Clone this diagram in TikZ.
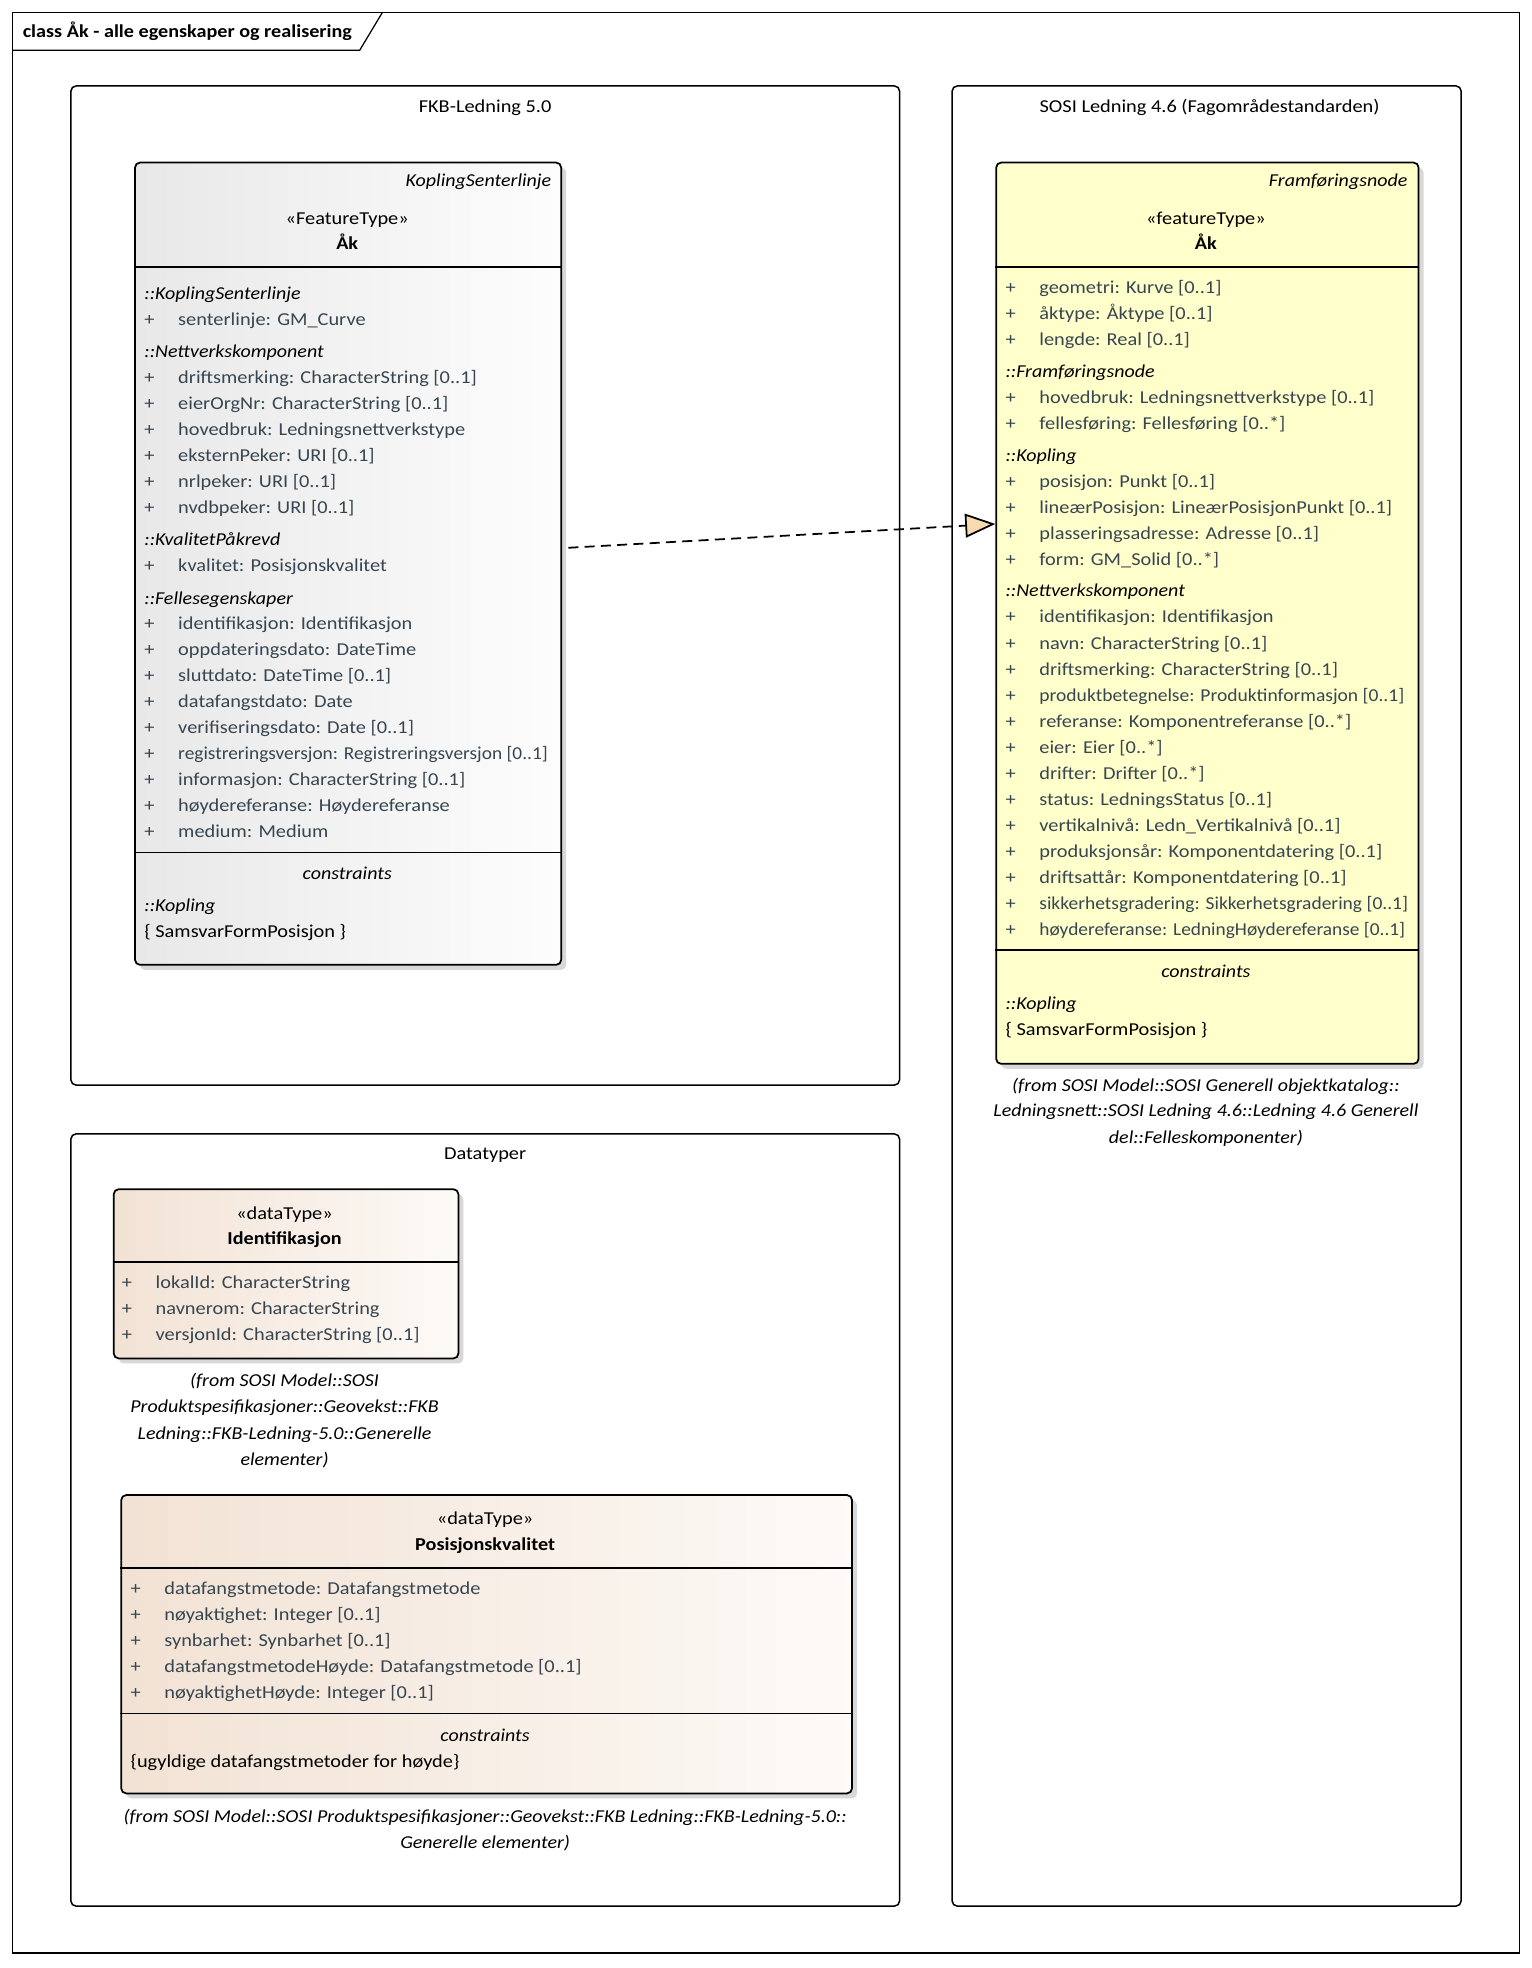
\documentclass[tikz,border=0pt]{standalone}
\usepackage{fontspec}
\usepackage{graphicx}
\setmainfont{Carlito}[FakeStretch=1.12, ItalicFeatures={FakeStretch=1.1}, BoldFeatures={FakeStretch=1.11}]
\usetikzlibrary{arrows.meta,shadows}
\definecolor{attrc}{RGB}{55,70,80}
\definecolor{fkbl}{RGB}{232,232,232}
\definecolor{fkbr}{RGB}{253,253,253}
\definecolor{yel}{RGB}{255,255,204}
\definecolor{dtl}{RGB}{242,226,212}
\definecolor{dtr}{RGB}{253,250,247}
\definecolor{tipc}{RGB}{247,219,176}
\tikzset{
  pkg/.style={draw, line width=1.2pt, rounded corners=4pt, anchor=north west, inner sep=0pt},
  cls/.style={draw, line width=1.4pt, rounded corners=4pt, anchor=north west, inner sep=0pt,
    drop shadow={shadow xshift=4pt, shadow yshift=-4pt, fill=black!25, opacity=0.6}},
  txt/.style={inner sep=0pt, font=\fontsize{14.5}{17}\selectfont},
  attrtxt/.style={txt, anchor=base west, text=attrc},
  grp/.style={txt, anchor=base west, font=\fontsize{14.5}{17}\selectfont\itshape},
  ctr/.style={txt, anchor=base},
  ital/.style={txt, anchor=base, font=\fontsize{14.5}{17}\selectfont\itshape},
  sep/.style={line width=1.4pt},
}
\newcommand{\pl}[1]{\makebox[27pt][l]{+}#1}
\newcommand{\sq}[2]{\scalebox{#1}[1]{#2}}
\begin{document}
\begin{tikzpicture}[x=1pt,y=-1pt]
\useasboundingbox (0,0) rectangle (1222,1570);
\fill[white] (0,0) rectangle (1222,1570);
% outer frame
\draw[line width=1pt] (10,10) rectangle (1212,1558);
\draw[line width=1pt] (10,40) -- (287,40) -- (305,10);
\node[txt, anchor=base west, font=\fontsize{14.5}{16}\selectfont\bfseries] (title) at (18,30) {class Åk - alle egenskaper og realisering};
% packages
\node[pkg, minimum width=661pt, minimum height=797pt] (pfkb) at (56,68) {};
\node[ctr] (pfkbt) at (387,90) {FKB-Ledning 5.0};
\node[pkg, minimum width=406pt, minimum height=1452pt] (psosi) at (759,68) {};
\node[ctr] (psosit) at (965,90) {SOSI Ledning 4.6 (Fagområdestandarden)};
\node[pkg, minimum width=661pt, minimum height=616pt] (pdt) at (56,904) {};
\node[ctr] (pdtt) at (387,925) {Datatyper};
% ---------------- left class
\node[cls, left color=fkbl, right color=fkbr, minimum width=340pt, minimum height=640pt] (L) at (107,129) {};
\node[txt, anchor=base east, font=\fontsize{14.5}{17}\selectfont\itshape] (Lh) at (440,149) {KoplingSenterlinje};
\node[ctr] (Ls) at (277,179) {«FeatureType»};
\node[ctr, font=\fontsize{14.5}{17}\selectfont\bfseries] (Ln) at (277,199) {Åk};
\draw[sep] (L.west |- 0,213) -- (L.east |- 0,213);
\node[grp] (Lg1) at (115,239) {::KoplingSenterlinje};
\node[attrtxt] (La1) at (115,260) {\pl{senterlinje: GM\_Curve}};
\node[grp] (Lg2) at (115,285) {::Nettverkskomponent};
\foreach \t [count=\i] in {driftsmerking: CharacterString [0..1], eierOrgNr: CharacterString [0..1], hovedbruk: Ledningsnettverkstype, eksternPeker: URI [0..1], nrlpeker: URI [0..1], nvdbpeker: URI [0..1]}
  \node[attrtxt] (Lb\i) at (115,{306+20.75*(\i-1)}) {\pl{\t}};
\node[grp] (Lg3) at (115,435) {::KvalitetPåkrevd};
\node[attrtxt] (Lc1) at (115,456) {\pl{kvalitet: Posisjonskvalitet}};
\node[grp] (Lg4) at (115,482) {::Fellesegenskaper};
\foreach \t [count=\i] in {identifikasjon: Identifikasjon, oppdateringsdato: DateTime, sluttdato: DateTime [0..1], datafangstdato: Date, verifiseringsdato: Date [0..1], {\sq{0.951}{registreringsversjon: Registreringsversjon [0..1]}}, informasjon: CharacterString [0..1], høydereferanse: Høydereferanse, medium: Medium}
  \node[attrtxt] (Ld\i) at (115,{502+20.75*(\i-1)}) {\pl{\t}};
\draw[sep] (L.west |- 0,680) -- (L.east |- 0,680);
\node[ital] (Lct) at (277,702) {constraints};
\node[grp] (Lk) at (115,727) {::Kopling};
\node[txt, anchor=base west] (Lkc) at (115,748) {\{ SamsvarFormPosisjon \}};
% ---------------- right class
\node[cls, fill=yel, minimum width=337pt, minimum height=719pt] (R) at (794,129) {};
\node[txt, anchor=base east, font=\fontsize{14.5}{17}\selectfont\itshape] (Rh) at (1123,149) {Framføringsnode};
\node[ctr] (Rs) at (962,179) {«featureType»};
\node[ctr, font=\fontsize{14.5}{17}\selectfont\bfseries] (Rn) at (962,199) {Åk};
\draw[sep] (R.west |- 0,213) -- (R.east |- 0,213);
\foreach \t [count=\i] in {geometri: Kurve [0..1], åktype: Åktype [0..1], lengde: Real [0..1]}
  \node[attrtxt] (Ra\i) at (802,{234+20.75*(\i-1)}) {\pl{\t}};
\node[grp] (Rg1) at (802,301) {::Framføringsnode};
\foreach \t [count=\i] in {hovedbruk: Ledningsnettverkstype [0..1], fellesføring: Fellesføring [0..*]}
  \node[attrtxt] (Rb\i) at (802,{322+20.75*(\i-1)}) {\pl{\t}};
\node[grp] (Rg2) at (802,368) {::Kopling};
\foreach \t [count=\i] in {posisjon: Punkt [0..1], lineærPosisjon: LineærPosisjonPunkt [0..1], plasseringsadresse: Adresse [0..1], form: GM\_Solid [0..*]}
  \node[attrtxt] (Rc\i) at (802,{389+20.75*(\i-1)}) {\pl{\t}};
\node[grp] (Rg3) at (802,476) {::Nettverkskomponent};
\foreach \t [count=\i] in {identifikasjon: Identifikasjon, navn: CharacterString [0..1], driftsmerking: CharacterString [0..1], {\sq{0.96}{produktbetegnelse: Produktinformasjon [0..1]}}, referanse: Komponentreferanse [0..*], eier: Eier [0..*], drifter: Drifter [0..*], status: LedningsStatus [0..1], vertikalnivå: Ledn\_Vertikalnivå [0..1], produksjonsår: Komponentdatering [0..1], driftsattår: Komponentdatering [0..1], {\sq{0.957}{sikkerhetsgradering: Sikkerhetsgradering [0..1]}}, {\sq{0.951}{høydereferanse: LedningHøydereferanse [0..1]}}}
  \node[attrtxt] (Rd\i) at (802,{497+20.75*(\i-1)}) {\pl{\t}};
\draw[sep] (R.west |- 0,758) -- (R.east |- 0,758);
\node[ital] (Rct) at (962,780) {constraints};
\node[grp] (Rk) at (802,805) {::Kopling};
\node[txt, anchor=base west] (Rkc) at (802,826) {\{ SamsvarFormPosisjon \}};
\node[ital] (Rf1) at (962,871) {(from SOSI Model::SOSI Generell objektkatalog::};
\node[ital] (Rf2) at (962,891) {Ledningsnett::SOSI Ledning 4.6::Ledning 4.6 Generell};
\node[ital] (Rf3) at (962,912) {del::Felleskomponenter)};
% ---------------- Identifikasjon
\node[cls, left color=dtl, right color=dtr, minimum width=275pt, minimum height=135pt] (I) at (90,948) {};
\node[ctr] (Is) at (227,973) {«dataType»};
\node[ctr, font=\fontsize{14.5}{17}\selectfont\bfseries] (In) at (227,993) {Identifikasjon};
\draw[sep] (I.west |- 0,1007) -- (I.east |- 0,1007);
\foreach \t [count=\i] in {lokalId: CharacterString, navnerom: CharacterString, versjonId: CharacterString [0..1]}
  \node[attrtxt] (Ia\i) at (97,{1028+20.75*(\i-1)}) {\pl{\t}};
\node[ital] (If1) at (227,1106) {(from SOSI Model::SOSI};
\node[ital] (If2) at (227,1127) {Produktspesifikasjoner::Geovekst::FKB};
\node[ital] (If3) at (227,1148) {Ledning::FKB-Ledning-5.0::Generelle};
\node[ital] (If4) at (227,1169) {elementer)};
% ---------------- Posisjonskvalitet
\node[cls, left color=dtl, right color=dtr, minimum width=583pt, minimum height=238pt] (P) at (96,1192) {};
\node[ctr] (Ps) at (387,1216) {«dataType»};
\node[ctr, font=\fontsize{14.5}{17}\selectfont\bfseries] (Pn) at (387,1237) {Posisjonskvalitet};
\draw[sep] (P.west |- 0,1251) -- (P.east |- 0,1251);
\foreach \t [count=\i] in {datafangstmetode: Datafangstmetode, nøyaktighet: Integer [0..1], synbarhet: Synbarhet [0..1], datafangstmetodeHøyde: Datafangstmetode [0..1], nøyaktighetHøyde: Integer [0..1]}
  \node[attrtxt] (Pa\i) at (104,{1272+20.75*(\i-1)}) {\pl{\t}};
\draw[sep] (P.west |- 0,1367) -- (P.east |- 0,1367);
\node[ital] (Pct) at (387,1389) {constraints};
\node[txt, anchor=base west] (Pc) at (104,1410) {\{ugyldige datafangstmetoder for høyde\}};
\node[ital] (Pf1) at (387,1454) {(from SOSI Model::SOSI Produktspesifikasjoner::Geovekst::FKB Ledning::FKB-Ledning-5.0::};
\node[ital] (Pf2) at (387,1475) {Generelle elementer)};
% ---------------- realization
\path (L.north east) ++(5,308) coordinate (src);
\path (R.north west) ++(0,289) coordinate (dst);
\draw[line width=1.4pt, dash pattern=on 8pt off 5pt, -{Triangle[length=24pt, width=19pt, fill=tipc, line width=1.4pt]}] (src) -- (dst);
\end{tikzpicture}
\end{document}
